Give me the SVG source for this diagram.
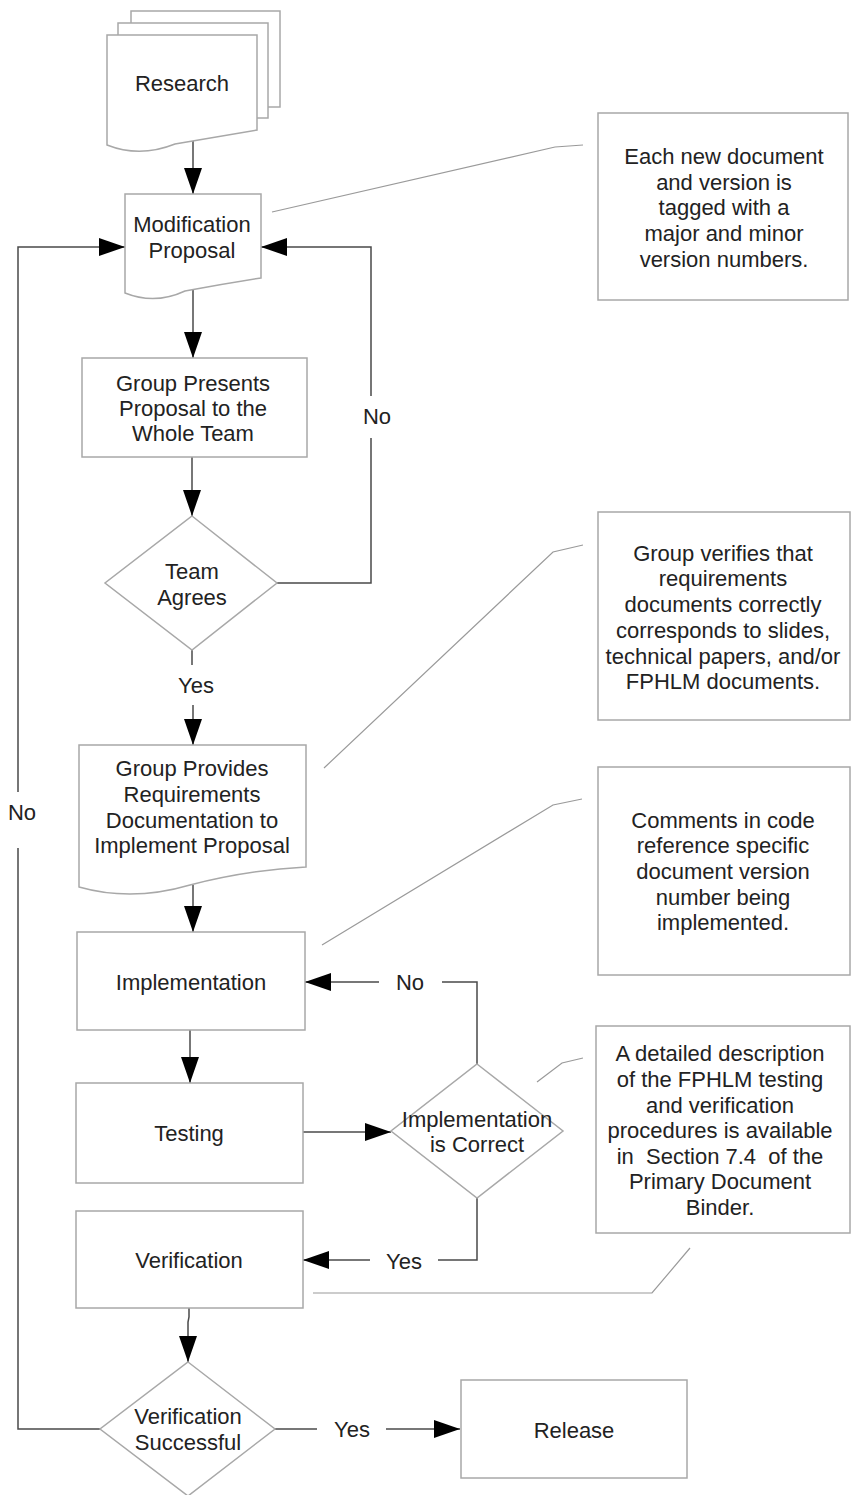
<svg xmlns="http://www.w3.org/2000/svg" width="851" height="1495" viewBox="0 0 851 1495">
<style>
.box{fill:#fff;stroke:#a8a8a8;stroke-width:1.5}
.conn{fill:none;stroke:#4a4a4a;stroke-width:1.5}
.lead{fill:none;stroke:#9a9a9a;stroke-width:1.2}
.t{font-family:"Liberation Sans",Arial,sans-serif;font-size:22px;fill:#222;text-anchor:middle}
</style>
<defs>
<marker id="arr" viewBox="0 0 26 18" refX="26" refY="9" markerWidth="26" markerHeight="18" markerUnits="userSpaceOnUse" orient="auto">
<path d="M0,0 L26,9 L0,18 z" fill="#000"/>
</marker>
</defs>
<rect width="851" height="1495" fill="#fff"/>

<g id="connectors">
<path class="conn" d="M193,140 V194" marker-end="url(#arr)"/>
<path class="conn" d="M193,289 V358" marker-end="url(#arr)"/>
<path class="conn" d="M192,457 V516" marker-end="url(#arr)"/>
<path class="conn" d="M277,583 H371 V438"/>
<path class="conn" d="M371,396 V247 H261" marker-end="url(#arr)"/>
<path class="conn" d="M192,650 V665"/>
<path class="conn" d="M193,705 V745" marker-end="url(#arr)"/>
<path class="conn" d="M193,885 V932" marker-end="url(#arr)"/>
<path class="conn" d="M190,1030 V1083" marker-end="url(#arr)"/>
<path class="conn" d="M303,1132 H391" marker-end="url(#arr)"/>
<path class="conn" d="M477,1064 V982 H442"/>
<path class="conn" d="M379,982 H305" marker-end="url(#arr)"/>
<path class="conn" d="M477,1198 V1260 H438"/>
<path class="conn" d="M370,1260 H303" marker-end="url(#arr)"/>
<path class="conn" d="M189,1308 V1317 L188,1322 V1362" marker-end="url(#arr)"/>
<path class="conn" d="M100,1429 H18 V848"/>
<path class="conn" d="M18,792 V247 H125" marker-end="url(#arr)"/>
<path class="conn" d="M275,1429 H317"/>
<path class="conn" d="M386,1429 H460" marker-end="url(#arr)"/>
<path class="lead" d="M272,212 L555,147 L583,145"/>
<path class="lead" d="M324,768 L553,552 L583,545"/>
<path class="lead" d="M322,945 L553,805 L582,799"/>
<path class="lead" d="M537,1082 L562,1063 L583,1058"/>
<path class="lead" d="M313,1293 L652,1293 L690,1248"/>
<text class="t" x="377" y="424">No</text>
<text class="t" x="196" y="693">Yes</text>
<text class="t" x="410" y="990">No</text>
<text class="t" x="404" y="1269">Yes</text>
<text class="t" x="22" y="820">No</text>
<text class="t" x="352" y="1437">Yes</text>
</g>

<g id="research">
<rect class="box" x="131" y="11" width="149" height="96"/>
<rect class="box" x="118" y="23" width="150" height="95"/>
<path class="box" d="M107,35 H257 V130 Q 216,137 175,144 Q 140,158 107,145 Z"/>
<text class="t" x="182" y="91">Research</text>
</g>

<g id="modification-proposal">
<path class="box" d="M125,194 H261 V278 Q 223,284 185,291 Q 155,305 125,293 Z"/>
<text class="t" x="192" y="232">Modification</text>
<text class="t" x="192" y="258">Proposal</text>
</g>

<g id="group-presents">
<rect class="box" x="82" y="358" width="225" height="99"/>
<text class="t" x="193" y="391">Group Presents</text>
<text class="t" x="193" y="416">Proposal to the</text>
<text class="t" x="193" y="441">Whole Team</text>
</g>

<g id="team-agrees">
<path class="box" d="M192,516 L277,583 L192,650 L105,583 Z"/>
<text class="t" x="192" y="579">Team</text>
<text class="t" x="192" y="605">Agrees</text>
</g>

<g id="group-provides">
<path class="box" d="M79,745 H306 V867 Q 248,870 190,885 Q 132,902 79,887 Z"/>
<text class="t" x="192" y="776">Group Provides</text>
<text class="t" x="192" y="802">Requirements</text>
<text class="t" x="192" y="828">Documentation to</text>
<text class="t" x="192" y="853">Implement Proposal</text>
</g>

<g id="implementation">
<rect class="box" x="77" y="932" width="228" height="98"/>
<text class="t" x="191" y="990">Implementation</text>
</g>

<g id="testing">
<rect class="box" x="76" y="1083" width="227" height="100"/>
<text class="t" x="189" y="1141">Testing</text>
</g>

<g id="implementation-correct">
<path class="box" d="M477,1064 L563,1131 L477,1198 L391,1131 Z"/>
<text class="t" x="477" y="1127">Implementation</text>
<text class="t" x="477" y="1152">is Correct</text>
</g>

<g id="verification">
<rect class="box" x="76" y="1211" width="227" height="97"/>
<text class="t" x="189" y="1268">Verification</text>
</g>

<g id="verification-successful">
<path class="box" d="M188,1362 L275,1429 L188,1496 L100,1429 Z"/>
<text class="t" x="188" y="1424">Verification</text>
<text class="t" x="188" y="1450">Successful</text>
</g>

<g id="release">
<rect class="box" x="461" y="1380" width="226" height="98"/>
<text class="t" x="574" y="1438">Release</text>
</g>

<g id="note-versions">
<rect class="box" x="598" y="113" width="250" height="187"/>
<text class="t" x="724" y="164">Each new document</text>
<text class="t" x="724" y="190">and version is</text>
<text class="t" x="724" y="215">tagged with a</text>
<text class="t" x="724" y="241">major and minor</text>
<text class="t" x="724" y="267">version numbers.</text>
</g>

<g id="note-verifies">
<rect class="box" x="598" y="512" width="252" height="208"/>
<text class="t" x="723" y="561">Group verifies that</text>
<text class="t" x="723" y="586">requirements</text>
<text class="t" x="723" y="612">documents correctly</text>
<text class="t" x="723" y="638">corresponds to slides,</text>
<text class="t" x="723" y="664">technical papers, and/or</text>
<text class="t" x="723" y="689">FPHLM documents.</text>
</g>

<g id="note-comments">
<rect class="box" x="598" y="767" width="252" height="208"/>
<text class="t" x="723" y="828">Comments in code</text>
<text class="t" x="723" y="853">reference specific</text>
<text class="t" x="723" y="879">document version</text>
<text class="t" x="723" y="905">number being</text>
<text class="t" x="723" y="930">implemented.</text>
</g>

<g id="note-testing">
<rect class="box" x="596" y="1026" width="254" height="207"/>
<text class="t" x="720" y="1061">A detailed description</text>
<text class="t" x="720" y="1087">of the FPHLM testing</text>
<text class="t" x="720" y="1113">and verification</text>
<text class="t" x="720" y="1138">procedures is available</text>
<text class="t" x="720" y="1164" xml:space="preserve">in  Section 7.4  of the</text>
<text class="t" x="720" y="1189">Primary Document</text>
<text class="t" x="720" y="1215">Binder.</text>
</g>
</svg>
